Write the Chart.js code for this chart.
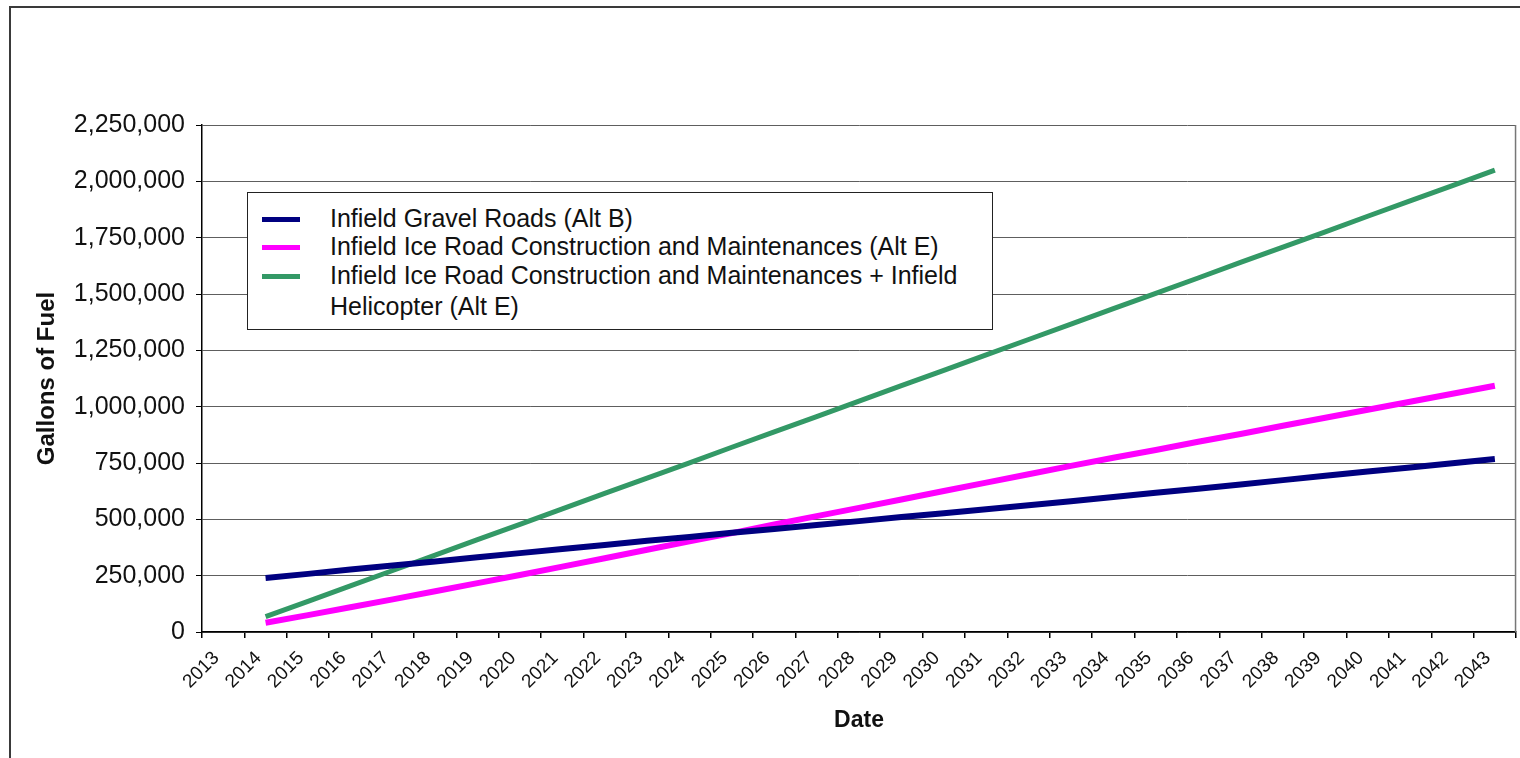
<!DOCTYPE html>
<html>
<head>
<meta charset="utf-8">
<script src="https://cdn.jsdelivr.net/npm/chart.js@4.4.1/dist/chart.umd.min.js"></script>
<style>
  html, body { margin: 0; padding: 0; background: #fff; width: 1520px; height: 758px; overflow: hidden; }
  #frame { position: absolute; left: 9px; top: 6px; width: 1530px; height: 800px;
           border-left: 2px solid #3a3a3a; border-top: 2px solid #3a3a3a; box-sizing: border-box; }
  #wrap { position: absolute; left: 0; top: 0; width: 1520px; height: 758px; }
  #legend { position: absolute; left: 247px; top: 192px; width: 746px; height: 138px;
            border: 1.5px solid #222; background: #fff; box-sizing: border-box;
            font-family: "Liberation Sans", Arial, sans-serif; font-size: 25px; color: #111; }
  .item { position: absolute; left: 0; width: 100%; }
  .sw { position: absolute; left: 14px; width: 38px; height: 5px; }
  .tx { position: absolute; left: 82px; width: 650px; line-height: 31px; }
</style>
</head>
<body>
<div id="frame"></div>
<div id="wrap"><canvas id="c" width="1520" height="758"></canvas></div>
<div id="legend"></div>
<script>
// Categories (x-axis tick labels)
const years = ["2013","2014","2015","2016","2017","2018","2019","2020","2021","2022",
               "2023","2024","2025","2026","2027","2028","2029","2030","2031","2032",
               "2033","2034","2035","2036","2037","2038","2039","2040","2041","2042","2043"];

// Series names
const seriesNames = [
  "Infield Gravel Roads (Alt B)",
  "Infield Ice Road Construction and Maintenances (Alt E)",
  "Infield Ice Road Construction and Maintenances + Infield Helicopter (Alt E)"
];

// Gallons of fuel (2013 has no value)
const gravelRoads = [null,
  240000, 258000, 277000, 295000, 313000, 332000, 350000, 368000, 386000, 405000,
  422000, 440000, 457000, 475000, 492000, 510000, 527000, 545000, 562000, 580000,
  599000, 618000, 636000, 655000, 674000, 693000, 712000, 730000, 749000, 768000];

const iceRoad = [null,
  41000, 75000, 110000, 145000, 181000, 217000, 253000, 290000, 327000, 365000,
  402000, 439000, 477000, 514000, 551000, 588000, 626000, 663000, 700000, 737000,
  773000, 808000, 844000, 879000, 915000, 951000, 986000, 1022000, 1057000, 1093000];

const iceRoadHeli = [null,
  68000, 136000, 205000, 273000, 341000, 410000, 478000, 546000, 615000, 683000,
  751000, 820000, 888000, 956000, 1025000, 1093000, 1161000, 1230000, 1298000, 1366000,
  1435000, 1503000, 1571000, 1640000, 1708000, 1776000, 1845000, 1913000, 1981000, 2050000];

// Y-axis tick values
const yTicks = [0, 250000, 500000, 750000, 1000000, 1250000, 1500000, 1750000, 2000000, 2250000];

const colors = ["#000080", "#ff00ff", "#339966"];
const widths = [6, 6, 5];
const seriesData = [gravelRoads, iceRoad, iceRoadHeli];

const FONT = "'Liberation Sans', Arial, sans-serif";

const rightBorder = {
  id: 'rightBorder',
  afterDraw(chart) {
    const {ctx, chartArea} = chart;
    ctx.save();
    ctx.strokeStyle = '#777';
    ctx.lineWidth = 1.5;
    ctx.beginPath();
    ctx.moveTo(chartArea.right - 0.5, chartArea.top);
    ctx.lineTo(chartArea.right - 0.5, chartArea.bottom);
    ctx.stroke();
    ctx.restore();
  }
};

const chart = new Chart(document.getElementById('c'), {
  type: 'line',
  data: {
    labels: years,
    datasets: seriesData.map((d, i) => ({
      label: seriesNames[i],
      data: d,
      borderColor: colors[i],
      backgroundColor: colors[i],
      borderWidth: widths[i],
      pointRadius: 0,
      pointHoverRadius: 0,
      tension: 0,
      fill: false,
      spanGaps: false
    }))
  },
  options: {
    responsive: false,
    devicePixelRatio: 1,
    animation: false,
    events: [],
    layout: { padding: { top: 125, right: 2, bottom: 0, left: 0 } },
    plugins: { legend: { display: false }, tooltip: { enabled: false } },
    scales: {
      x: {
        type: 'category',
        offset: true,
        afterFit: (s) => { s.height = 126; },
        grid: { offset: true, drawOnChartArea: false, drawTicks: true, tickLength: 6,
                color: '#000', tickColor: '#000', lineWidth: 1.5 },
        border: { color: '#000', width: 1.5 },
        ticks: { autoSkip: false, minRotation: 45, maxRotation: 45, padding: 9, labelOffset: -7,
                 font: { family: FONT, size: 19 }, color: '#111' },
        title: { display: true, text: 'Date', color: '#111',
                 font: { family: FONT, size: 23, weight: 'bold' },
                 padding: { top: 0, bottom: 24 } }
      },
      y: {
        min: 0,
        max: 2250000,
        afterFit: (s) => { s.width = 202; },
        afterBuildTicks: (s) => { s.ticks = yTicks.map(v => ({ value: v })); },
        grid: { color: '#5e5e5e', lineWidth: 1, drawTicks: true, tickLength: 6, tickColor: '#000' },
        border: { color: '#000', width: 1.5 },
        ticks: { padding: 11, color: '#111', font: { family: FONT, size: 25 },
                 callback: (v) => Number(v).toLocaleString('en-US') },
        title: { display: true, text: 'Gallons of Fuel', color: '#111',
                 font: { family: FONT, size: 24, weight: 'bold' },
                 padding: { top: 33, bottom: 0 } }
      }
    }
  },
  plugins: [rightBorder]
});

// HTML legend built from the dataset names and colours
const lg = document.getElementById('legend');
const rowTops = [10, 38, 67];
seriesNames.forEach((name, i) => {
  const it = document.createElement('div');
  it.className = 'item';
  it.style.top = rowTops[i] + 'px';
  const sw = document.createElement('div');
  sw.className = 'sw';
  sw.style.background = colors[i];
  sw.style.top = '14px';
  const tx = document.createElement('div');
  tx.className = 'tx';
  tx.textContent = name;
  it.appendChild(sw);
  it.appendChild(tx);
  lg.appendChild(it);
});
</script>
</body>
</html>
